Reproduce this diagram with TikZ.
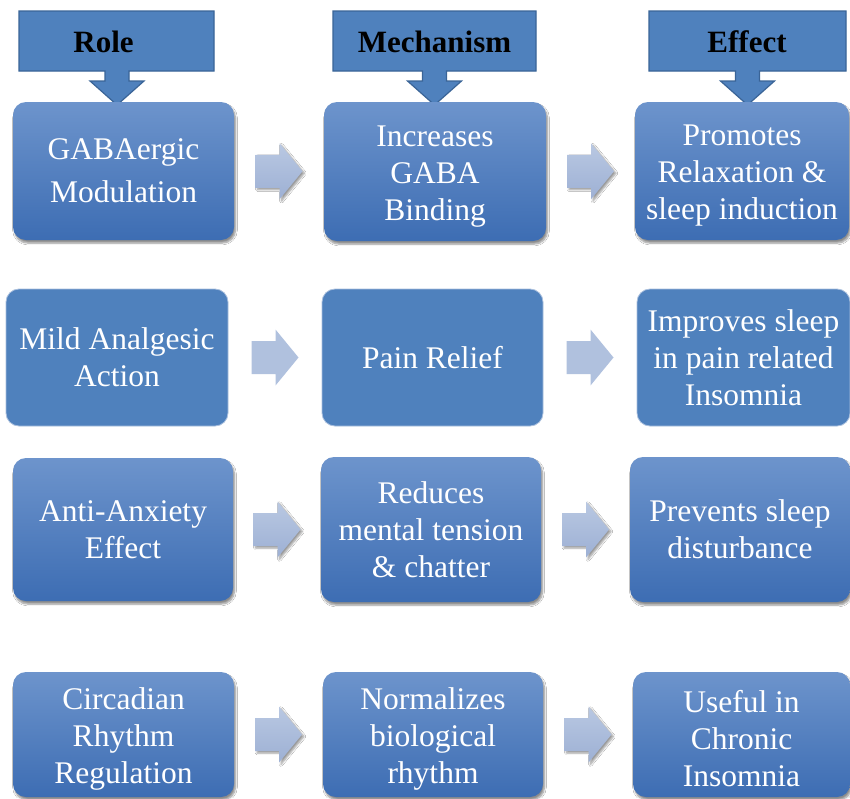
\documentclass[tikz,border=0pt]{standalone}
\usepackage{fontspec}
\setmainfont{Liberation Serif}
\usetikzlibrary{calc,shadows.blur}
\definecolor{boxtop}{HTML}{6D94CC}
\definecolor{boxbot}{HTML}{3D6DB3}
\definecolor{flatfill}{HTML}{4F81BD}
\definecolor{flatedge}{HTML}{A9BFDD}
\definecolor{arrtop}{HTML}{B9C8E2}
\definecolor{arrbot}{HTML}{9DB0D4}
\definecolor{arrflat}{HTML}{B0C1DE}
\definecolor{callfill}{HTML}{4F81BD}
\definecolor{calledge}{HTML}{3A6497}
\newcommand\lowr{\rule{0pt}{30pt}}
\tikzset{
  box/.style={rounded corners=13pt, align=center, text=white,
    font=\fontsize{31.5}{37}\selectfont, inner sep=0pt},
  gbox/.style={box, top color=boxtop, bottom color=boxbot,
    blur shadow={shadow xshift=1.5pt, shadow yshift=-3pt, shadow blur steps=6, shadow opacity=45}},
  fbox/.style={box, fill=flatfill, draw=flatedge, line width=0.8pt},
  garrow/.style={top color=arrtop, bottom color=arrbot,
    blur shadow={shadow xshift=2pt, shadow yshift=-2pt, shadow blur steps=5, shadow opacity=40}},
  farrow/.style={fill=arrflat},
  callout/.style={fill=callfill, draw=calledge, line width=1.2pt, line join=miter},
  headtext/.style={font=\bfseries\fontsize{31}{37}\selectfont, text=black, inner sep=0pt}
}
\newcommand\mycallout[3]{%
  \path[callout] (#1,11) -- (#2,11) -- (#2,71) -- (#3+12,71) -- (#3+12,81) -- (#3+27,81)
    -- (#3,105) -- (#3-27,81) -- (#3-12,81) -- (#3-12,71) -- (#1,71) -- cycle;}
\newcommand\blockarrow[3]{%
  \path[#1] ($(#2.east)!0.5!(#3.west)$) ++(-23.5,-16.5) -- ++(24,0) -- ++(0,-11.5)
    -- ++(23,28) -- ++(-23,28) -- ++(0,-11.5) -- ++(-24,0) -- cycle;}
\begin{document}
\begin{tikzpicture}[x=1pt,y=-1pt]
\useasboundingbox (0,0) rectangle (850,798);
\fill[white] (0,0) rectangle (850,798);
% headers
\mycallout{19}{214}{117}
\mycallout{333}{536}{434.5}
\mycallout{649}{846}{747.5}
\node[headtext] (hrole) at (103.5,42) {Role};
\node[headtext] (hmech) at (434.5,42) {Mechanism};
\node[headtext] (heff) at (747,42) {Effect};
% row 1
\node[gbox, minimum width=221pt, minimum height=138pt] (r1) at (123.5,171) {GABAergic\\[6pt]Modulation};
\node[gbox, minimum width=222pt, minimum height=139pt] (m1) at (435,171.5) {\lowr Increases\\GABA\\Binding};
\node[gbox, minimum width=214pt, minimum height=138pt] (e1) at (742,171) {\lowr Promotes\\Relaxation \&\\sleep induction};
% row 2
\node[fbox, minimum width=222pt, minimum height=137pt] (r2) at (117,357.5) {Mild Analgesic\\Action};
\node[fbox, minimum width=221pt, minimum height=137pt] (m2) at (432.5,357.5) {Pain Relief};
\node[fbox, minimum width=213pt, minimum height=137pt] (e2) at (743.5,357.5) {Improves sleep\\in pain related\\Insomnia};
% row 3
\node[gbox, minimum width=220pt, minimum height=143pt] (r3) at (123,529.5) {Anti-Anxiety\\Effect};
\node[gbox, minimum width=220pt, minimum height=145pt] (m3) at (431,529.5) {Reduces\\mental tension\\\& chatter};
\node[gbox, minimum width=220pt, minimum height=145pt] (e3) at (740,529.5) {Prevents sleep\\disturbance};
% row 4
\node[gbox, minimum width=221pt, minimum height=125pt] (r4) at (123.5,734.5) {\lowr Circadian\\Rhythm\\Regulation};
\node[gbox, minimum width=220pt, minimum height=125pt] (m4) at (433,734.5) {\lowr Normalizes\\biological\\rhythm};
\node[gbox, minimum width=217pt, minimum height=125pt] (e4) at (741.5,734.5) {\lowr Useful in\\Chronic\\Insomnia};
% arrows
\blockarrow{garrow}{r1}{m1}
\blockarrow{garrow}{m1}{e1}
\blockarrow{farrow}{r2}{m2}
\blockarrow{farrow}{m2}{e2}
\blockarrow{garrow}{r3}{m3}
\blockarrow{garrow}{m3}{e3}
\blockarrow{garrow}{r4}{m4}
\blockarrow{garrow}{m4}{e4}
\end{tikzpicture}
\end{document}
